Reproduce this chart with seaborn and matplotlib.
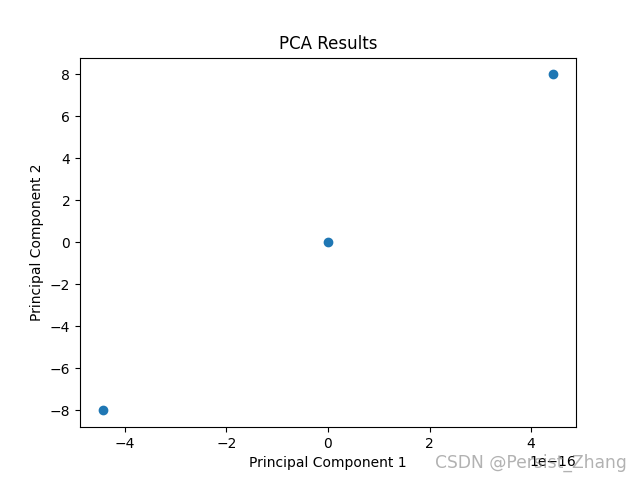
import matplotlib
matplotlib.use("Agg")
import matplotlib.pyplot as plt
import seaborn as sns
import pandas as pd

pc1 = [-4.440892098500626e-16, 0.0, 4.440892098500626e-16]
pc2 = [-8.0, 0.0, 8.0]
title = "PCA Results"
xlabel = "Principal Component 1"
ylabel = "Principal Component 2"
watermark = "CSDN @Persist_Zhang"

df = pd.DataFrame({"pc1": pc1, "pc2": pc2})

fig, ax = plt.subplots(figsize=(6.4, 4.8), dpi=100)
sns.scatterplot(data=df, x="pc1", y="pc2", ax=ax, s=36, color="#1f77b4",
                edgecolor="#1f77b4", linewidth=1.0)
ax.set_title(title)
ax.set_xlabel(xlabel)
ax.set_ylabel(ylabel)
fig.text(0.68, 0.025, watermark, fontsize=12.3, color="gray", alpha=0.6)
fig.savefig("out.png", dpi=100)
